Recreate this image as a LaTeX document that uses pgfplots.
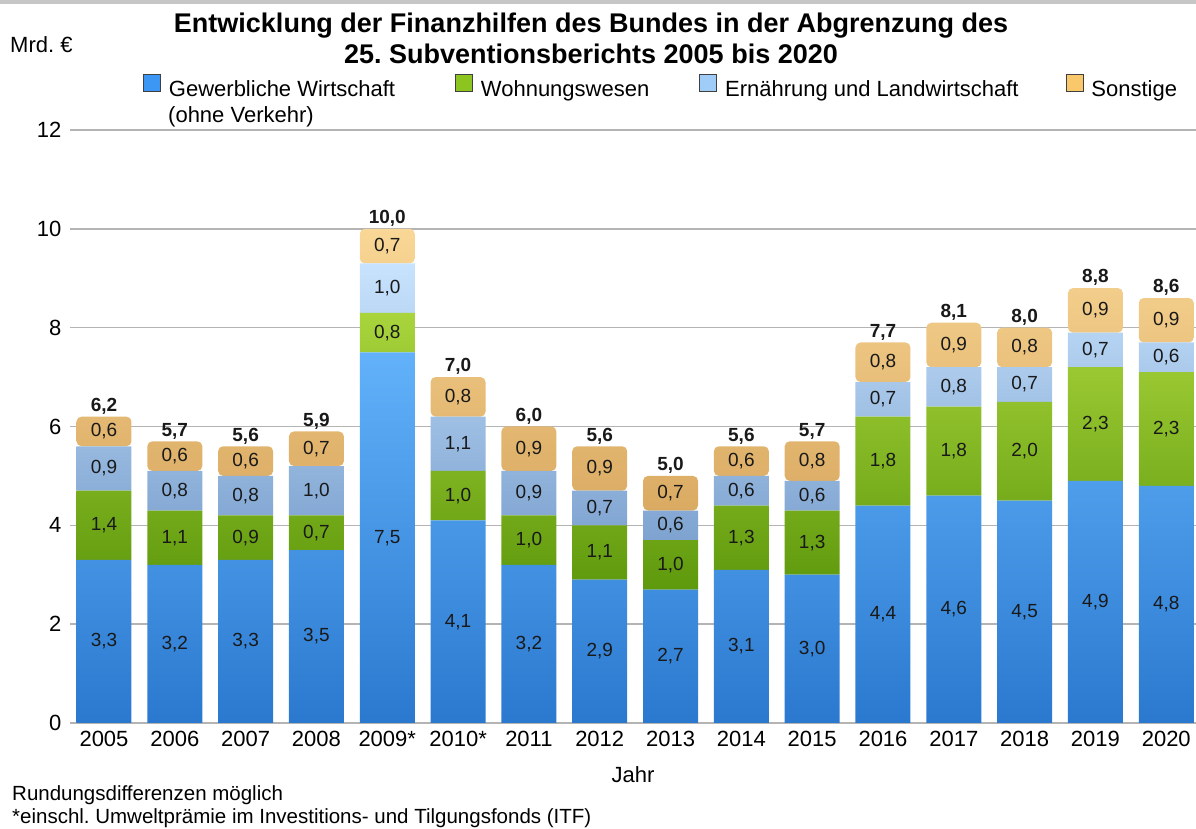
\documentclass[border=0pt]{standalone}
\usepackage{fontspec}
\setmainfont{Liberation Sans}
\usepackage{pgfplots}
\usepackage{pgfplotstable}
\pgfplotsset{compat=1.18}

\definecolor{blueTop}{HTML}{62B1FA}
\definecolor{blueBot}{HTML}{2A79CF}
\definecolor{greenTop}{HTML}{A9D43C}
\definecolor{greenBot}{HTML}{5E990C}
\definecolor{lbTop}{HTML}{C8E3FD}
\definecolor{lbBot}{HTML}{7EA3D0}
\definecolor{orTop}{HTML}{F9D796}
\definecolor{orBot}{HTML}{DAAA62}
\definecolor{legBlue}{HTML}{3B97F3}
\definecolor{legGreen}{HTML}{8CC520}
\definecolor{legLb}{HTML}{A0CDF8}
\definecolor{legOr}{HTML}{F9C86B}
\definecolor{gridgray}{HTML}{B4B4B4}

\newcommand\fs[2]{\fontsize{#1}{#2}\selectfont}

% x = Jahr-Index, b = Gewerbl. Wirtschaft, g = Wohnungswesen,
% l = Ernaehrung/Landwirtschaft, o = Sonstige, t = Summe
\pgfplotstableread{
x b g l o t
0 3.3 1.4 0.9 0.6 6.2
1 3.2 1.1 0.8 0.6 5.7
2 3.3 0.9 0.8 0.6 5.6
3 3.5 0.7 1.0 0.7 5.9
4 7.5 0.8 1.0 0.7 10.0
5 4.1 1.0 1.1 0.8 7.0
6 3.2 1.0 0.9 0.9 6.0
7 2.9 1.1 0.7 0.9 5.6
8 2.7 1.0 0.6 0.7 5.0
9 3.1 1.3 0.6 0.6 5.6
10 3.0 1.3 0.6 0.8 5.7
11 4.4 1.8 0.7 0.8 7.7
12 4.6 1.8 0.8 0.9 8.1
13 4.5 2.0 0.7 0.8 8.0
14 4.9 2.3 0.7 0.9 8.8
15 4.8 2.3 0.6 0.9 8.6
}\data

\pgfplotsset{
  geom/.style={at={(70pt,106pt)}, anchor=south west,
    scale only axis, width=1126pt, height=593pt,
    xmin=-0.48, xmax=15.42, ymin=0, ymax=12},
  seg/.style={draw=none, top color=#1Top, bottom color=#1Bot, forget plot},
  lab/.style={draw=none, mark=none, forget plot, point meta=explicit,
    nodes near coords, nodes near coords style={anchor=center,
      font=\fs{19}{22}, text=black!90,
      /pgf/number format/assume math mode=true,
      /pgf/number format/use comma, /pgf/number format/fixed,
      /pgf/number format/fixed zerofill, /pgf/number format/precision=1}},
  legsq/.style={legend image code/.code={%
    \draw[##1, draw=black!75, line width=0.8pt] (0pt,-2pt) rectangle (17pt,15pt);}},
}

\begin{document}
\frenchspacing
\begin{tikzpicture}
\fill[gray!45] (0pt,825pt) rectangle (1196pt,829pt);
\begin{axis}[
  geom,
  ybar stacked, bar width=55pt,
  ytick={0,2,...,12},
  xtick={0,...,15},
  xticklabels={2005,2006,2007,2008,2009*,2010*,2011,2012,2013,2014,2015,2016,2017,2018,2019,2020},
  axis line style={draw=none},
  major tick length=0pt,
  ymajorgrids, grid style={draw=gridgray, line width=1.4pt},
  tick label style={font=\fs{22}{26}},
  xticklabel style={yshift=-5pt},
  yticklabel style={xshift=-5pt},
  /pgf/number format/assume math mode=true,
  xlabel={Jahr},
  xlabel style={font=\fs{22}{26}, at={(axis description cs:0.5,0)}, anchor=center, yshift=-52pt},
  legend columns=4,
  legend style={at={(0.0648,1.0725)}, anchor=west, draw=none, fill=none,
    inner sep=0pt, font=\fs{22}{26}, nodes={inner sep=2pt},
    /tikz/every odd column/.append style={column sep=6pt},
    /tikz/column 2/.append style={column sep=58pt},
    /tikz/column 4/.append style={column sep=48pt},
    /tikz/column 6/.append style={column sep=45pt}},
  legend cell align=left,
]
\addplot[seg=blue] table[x=x, y=b] {\data};
\addplot[seg=green] table[x=x, y=g] {\data};
\addplot[seg=lb] table[x=x, y=l] {\data};
\addplot[seg=or, rounded corners=5pt] table[x=x, y=o] {\data};

\addlegendimage{legsq, fill=legBlue}
\addlegendentry{Gewerbliche Wirtschaft}
\addlegendimage{legsq, fill=legGreen}
\addlegendentry{Wohnungswesen}
\addlegendimage{legsq, fill=legLb}
\addlegendentry{Ernährung und Landwirtschaft}
\addlegendimage{legsq, fill=legOr}
\addlegendentry{Sonstige}
\end{axis}

% values in the middle of each piece, sums on top
\begin{axis}[geom, hide axis]
\addplot[lab] table[x=x, y expr=\thisrow{b}/2, meta=b] {\data};
\addplot[lab] table[x=x, y expr=\thisrow{b}+\thisrow{g}/2, meta=g] {\data};
\addplot[lab] table[x=x, y expr=\thisrow{b}+\thisrow{g}+\thisrow{l}/2, meta=l] {\data};
\addplot[lab] table[x=x, y expr=\thisrow{b}+\thisrow{g}+\thisrow{l}+\thisrow{o}/2, meta=o] {\data};
\addplot[lab, nodes near coords style={anchor=south, inner sep=2pt, font=\bfseries\fs{19}{22}}]
  table[x=x, y expr=\thisrow{b}+\thisrow{g}+\thisrow{l}+\thisrow{o}, meta=t] {\data};
\end{axis}

\node[anchor=west, font=\fs{22}{26}, inner sep=0pt] at (168pt,712pt) {(ohne Verkehr)};
\node[font=\bfseries\fs{27}{31}, align=center] at (591pt,791pt)
  {Entwicklung der Finanzhilfen des Bundes in der Abgrenzung des\\25. Subventionsberichts 2005 bis 2020};
\node[anchor=west, font=\fs{22}{26}, inner sep=0pt] at (10pt,784pt) {Mrd. €};
\node[anchor=west, font=\fs{20.5}{24}, inner sep=0pt] at (12pt,34pt) {Rundungsdifferenzen möglich};
\node[anchor=west, font=\fs{20.5}{24}, inner sep=0pt] at (12pt,11pt) {*einschl. Umweltprämie im Investitions- und Tilgungsfonds (ITF)};

\pgfresetboundingbox
\useasboundingbox (0pt,0pt) rectangle (1196pt,829pt);
\end{tikzpicture}
\end{document}
